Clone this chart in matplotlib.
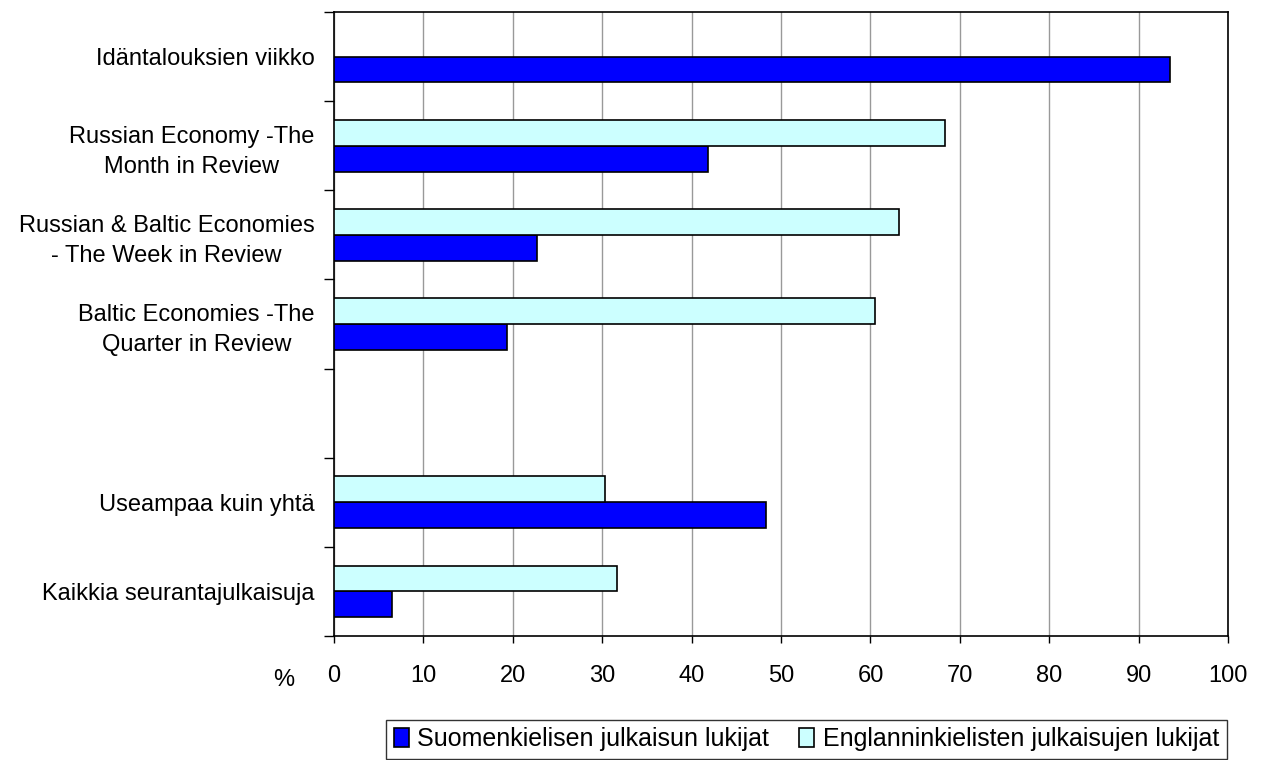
import numpy as np
import matplotlib.pyplot as plt

plt.rcParams['font.family'] = ['Liberation Sans', 'DejaVu Sans']

categories = ['Idäntalouksien viikko',
              'Russian Economy -The\nMonth in Review',
              'Russian & Baltic Economies\n- The Week in Review',
              'Baltic Economies -The\nQuarter in Review',
              '',
              'Useampaa kuin yhtä',
              'Kaikkia seurantajulkaisuja']
finnish = [93.5, 41.8, 22.7, 19.4, 0, 48.3, 6.5]
english = [0, 68.3, 63.2, 60.5, 0, 30.3, 31.6]
series_names = ['Suomenkielisen julkaisun lukijat', 'Englanninkielisten julkaisujen lukijat']
xticks = [0, 10, 20, 30, 40, 50, 60, 70, 80, 90, 100]

fig = plt.figure(figsize=(12.61, 7.6), dpi=100)
ax = fig.add_axes([0.2649, 0.1632, 0.709, 0.821])

y = np.arange(len(categories))[::-1].astype(float)
h = 0.29
eng_x = [v if v > 0 else np.nan for v in english]
fin_x = [v if v > 0 else np.nan for v in finnish]
b1 = ax.barh(y - h / 2, fin_x, height=h, color='#0000ff', edgecolor='black', linewidth=1.2, zorder=3)
b2 = ax.barh(y + h / 2, eng_x, height=h, color='#ccffff', edgecolor='black', linewidth=1.2, zorder=3)

ax.set_xlim(0, 100)
ax.set_ylim(-0.5, len(categories) - 0.5)
ax.set_xticks(xticks)
ax.set_xticklabels([str(t) for t in xticks], fontsize=17)
ax.set_yticks(y)
ax.set_yticklabels(categories, fontsize=17, linespacing=1.45, multialignment='center')
ax.set_yticks(np.arange(-0.5, len(categories)), minor=True)
ax.tick_params(axis='y', which='major', length=0, pad=14)
ax.tick_params(axis='y', which='minor', length=7, width=1, direction='out')
ax.tick_params(axis='x', length=5, width=1, direction='out', pad=16)
ax.xaxis.grid(True, color='#999999', linewidth=1, zorder=0)
ax.set_axisbelow(True)
for s in ax.spines.values():
    s.set_color('black')
    s.set_linewidth(1.2)

fig.text(284 / 1261, 1 - 680 / 760, '%', fontsize=17, ha='center', va='center')

leg = fig.legend([b1, b2], series_names, loc='lower right',
                 bbox_to_anchor=(1228 / 1261, 0.0), ncol=2, fontsize=18,
                 frameon=True, fancybox=False, edgecolor='black',
                 handlelength=0.6, handleheight=0.75, handletextpad=0.35,
                 columnspacing=1.2, borderpad=0.3, borderaxespad=0.05)
leg.get_frame().set_linewidth(1)

fig.savefig('out.png', dpi=100)
